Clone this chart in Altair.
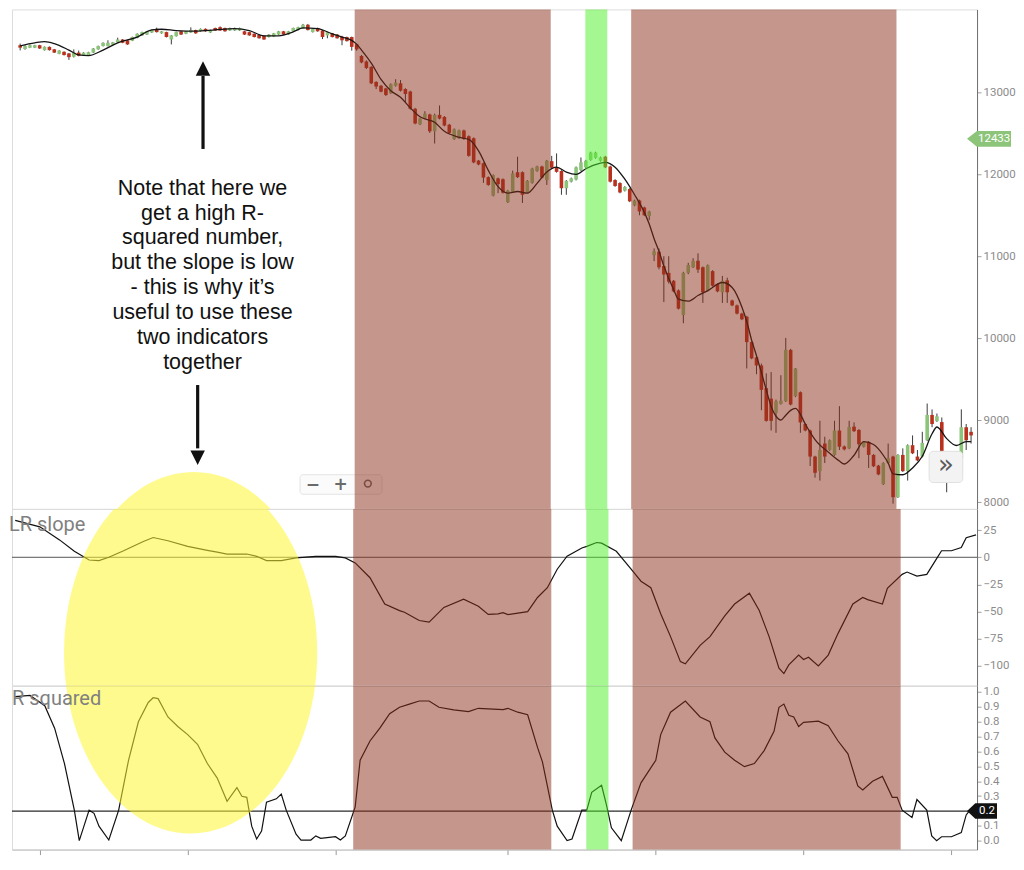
import altair as alt
import pandas as pd

# ---------------- data ----------------
bar_open = [
    13575, 13530, 13545, 13545, 13575, 13515, 13555, 13525, 13470, 13495,
    13475, 13435, 13485, 13450, 13450, 13485, 13525, 13565, 13565, 13580,
    13610, 13645, 13635, 13630, 13665, 13695, 13705, 13730, 13775, 13720,
    13735, 13645, 13685, 13745, 13715, 13730, 13760, 13745, 13775, 13730,
    13785, 13795, 13785, 13755, 13755, 13755, 13745, 13735, 13715, 13700,
    13690, 13675, 13680, 13705, 13745, 13705, 13745, 13760, 13780, 13825,
    13735, 13785, 13755, 13695, 13720, 13705, 13680, 13675, 13675, 13587,
    13444, 13377, 13310, 13127, 13080, 13048, 12990, 13080, 13110, 13040,
    13010, 12800, 12610, 12680, 12730, 12525, 12725, 12700, 12605, 12430,
    12440, 12535, 12465, 12440, 12167, 12135, 11965, 11740, 11950, 11940,
    11660, 11785, 12025, 12025, 11780, 11895, 12040, 12095, 11930, 12160,
    12085, 12040, 11830, 11910, 11935, 12050, 12085, 12175, 12200, 12165,
    12215, 12095, 11930, 11893, 11800, 11820, 11620, 11680, 11595, 11490,
    11012, 11055, 10880, 10797, 10700, 10583, 10282, 10797, 10865, 10945,
    10865, 10580, 10818, 10660, 10560, 10705, 10460, 10400, 10300, 10262,
    9952, 9765, 9667, 9390, 9262, 9090, 9198, 9230, 9857, 9290,
    9340, 8952, 8873, 8555, 8377, 8714, 8635, 8575, 8873, 8678,
    8655, 8920, 8880, 8675, 8734, 8575, 8444, 8218, 8476, 8555,
    8059, 8575, 8377, 8694, 8555, 8555, 8754, 9063, 8988, 8976,
    8270, 8440, 8560, 8536, 8913, 8857,
]
bar_high = [
    13595, 13575, 13585, 13580, 13580, 13560, 13560, 13530, 13515, 13500,
    13480, 13524, 13510, 13490, 13495, 13540, 13570, 13610, 13635, 13615,
    13667, 13650, 13640, 13680, 13720, 13740, 13750, 13765, 13790, 13750,
    13740, 13700, 13740, 13750, 13750, 13793, 13765, 13780, 13780, 13765,
    13790, 13805, 13790, 13790, 13790, 13790, 13750, 13740, 13720, 13705,
    13695, 13710, 13725, 13750, 13750, 13750, 13790, 13800, 13835, 13835,
    13780, 13790, 13760, 13740, 13725, 13710, 13690, 13680, 13680, 13595,
    13455, 13390, 13320, 13135, 13090, 13055, 13110, 13160, 13150, 13050,
    13020, 12810, 12690, 12770, 12740, 12740, 12840, 12710, 12615, 12560,
    12545, 12545, 12475, 12450, 12175, 12145, 11975, 12000, 11960, 11950,
    11810, 12045, 12215, 12035, 11930, 12080, 12105, 12105, 12175, 12225,
    12255, 12050, 11930, 11960, 12095, 12205, 12175, 12275, 12275, 12215,
    12225, 12105, 11940, 11903, 11855, 11830, 11690, 11690, 11605, 11555,
    11095, 11095, 11000, 11000, 10710, 10595, 10810, 10920, 10976, 11035,
    10875, 10900, 10830, 10670, 10760, 10738, 10470, 10410, 10310, 10272,
    9962, 9775, 9690, 9570, 9586, 9250, 9548, 10003, 9870, 9635,
    9350, 8962, 8883, 8565, 8992, 8797, 8764, 8992, 9170, 8690,
    8992, 8972, 8890, 8744, 8744, 8585, 8454, 8486, 8714, 8565,
    8585, 8655, 8704, 8813, 8635, 8857, 9202, 9130, 9080, 9032,
    8520, 8600, 8620, 9131, 8952, 8913,
]
bar_low = [
    13512, 13520, 13540, 13540, 13530, 13510, 13510, 13480, 13465, 13450,
    13396, 13425, 13440, 13445, 13445, 13480, 13520, 13560, 13560, 13575,
    13605, 13600, 13580, 13625, 13660, 13690, 13700, 13725, 13730, 13715,
    13670, 13585, 13680, 13700, 13710, 13725, 13715, 13740, 13740, 13725,
    13750, 13750, 13740, 13750, 13750, 13750, 13700, 13690, 13670, 13655,
    13640, 13670, 13675, 13700, 13700, 13700, 13740, 13755, 13775, 13755,
    13730, 13740, 13650, 13660, 13670, 13655, 13575, 13620, 13508, 13508,
    13355, 13285, 13100, 13040, 13000, 12955, 12980, 13070, 13010, 12880,
    12790, 12610, 12600, 12670, 12505, 12375, 12670, 12585, 12495, 12420,
    12430, 12420, 12215, 12135, 12110, 11895, 11860, 11730, 11770, 11765,
    11650, 11775, 11955, 11650, 11770, 11885, 12030, 11950, 11870, 12070,
    12020, 11750, 11750, 11900, 11925, 12040, 12075, 12165, 12190, 12155,
    12075, 11900, 11847, 11768, 11790, 11660, 11610, 11500, 11490, 11440,
    10940, 10840, 10440, 10666, 10560, 10350, 10182, 10780, 10855, 10797,
    10430, 10570, 10630, 10560, 10430, 10430, 10390, 10290, 10220, 9630,
    9743, 9560, 9120, 8981, 8873, 8845, 9190, 9220, 9180, 9280,
    8845, 8863, 8440, 8297, 8262, 8476, 8625, 8565, 8635, 8630,
    8645, 8855, 8535, 8665, 8416, 8427, 8327, 8208, 8466, 7980,
    8049, 8367, 8262, 8585, 8498, 8545, 8744, 8913, 8978, 8609,
    8119, 8420, 8540, 8516, 8635, 8714,
]
bar_close = [
    13545, 13565, 13575, 13575, 13535, 13555, 13515, 13485, 13510, 13455,
    13430, 13485, 13445, 13485, 13490, 13535, 13565, 13605, 13605, 13610,
    13645, 13605, 13585, 13675, 13715, 13735, 13745, 13760, 13735, 13745,
    13675, 13695, 13735, 13705, 13745, 13760, 13720, 13775, 13745, 13760,
    13755, 13755, 13745, 13785, 13785, 13785, 13705, 13695, 13675, 13660,
    13645, 13705, 13720, 13745, 13705, 13745, 13785, 13795, 13825, 13760,
    13775, 13745, 13675, 13735, 13675, 13660, 13635, 13625, 13555, 13524,
    13365, 13298, 13110, 13071, 13008, 12968, 13100, 13120, 13020, 12980,
    12800, 12620, 12680, 12740, 12525, 12725, 12680, 12595, 12505, 12550,
    12535, 12430, 12225, 12145, 12120, 11960, 11870, 11990, 11880, 11775,
    11800, 12010, 11965, 11750, 11920, 12070, 12095, 11960, 12165, 12080,
    12030, 11830, 11920, 11950, 12085, 12145, 12165, 12265, 12265, 12205,
    12085, 11910, 11857, 11778, 11845, 11670, 11680, 11547, 11500, 11545,
    11060, 10865, 10777, 10690, 10571, 10360, 10797, 10893, 10945, 10837,
    10560, 10890, 10640, 10571, 10700, 10560, 10400, 10300, 10230, 9952,
    9753, 9667, 9369, 8991, 8991, 9230, 9238, 9857, 9190, 9630,
    8972, 8873, 8555, 8357, 8635, 8555, 8754, 8873, 8675, 8643,
    8916, 8865, 8706, 8734, 8575, 8437, 8337, 8476, 8535, 8059,
    8575, 8377, 8694, 8595, 8508, 8722, 9063, 8952, 9047, 8619,
    8470, 8560, 8610, 8913, 8754, 8813,
]

ma_bar = [0, 3, 5, 7, 10, 12, 14, 17, 20, 24, 27, 29, 32, 36, 40, 44, 47, 50, 53, 56,
          58, 61, 64, 66, 68, 69, 70, 72, 74, 76, 78, 80, 82, 85, 87, 90, 92, 94, 96, 98,
          100, 102, 104, 106, 108, 110, 112, 114, 116, 119, 120, 122, 124, 126, 128, 129, 130, 131, 132, 134,
          135, 137, 139, 141, 144, 146, 148, 149, 150, 151, 152, 153, 154, 155, 156, 157, 158, 159, 160, 161,
          163, 166, 168, 169, 171, 173, 175, 177, 178, 179, 181, 183, 185, 187, 188, 190, 192, 194, 195]
ma_val = [13568, 13604, 13619, 13595, 13516, 13456, 13449, 13516, 13604, 13675, 13762, 13770, 13754, 13746, 13762, 13777, 13754, 13690, 13690, 13738,
          13786, 13777, 13714, 13675, 13634, 13587, 13516, 13357, 13158, 13020, 12940, 12810, 12702, 12634, 12524, 12452, 12425, 12286, 12048, 11849,
          11770, 11790, 11770, 11889, 12027, 12087, 12027, 12000, 12068, 12135, 12146, 12087, 11940, 11750, 11535, 11393, 11214, 11060, 10881, 10595,
          10476, 10452, 10520, 10580, 10679, 10619, 10381, 10203, 9976, 9786, 9583, 9369, 9167, 9047, 9000, 9059, 9119, 9143, 9071, 8952,
          8762, 8595, 8500, 8464, 8571, 8738, 8702, 8571, 8476, 8345, 8333, 8416, 8559, 8833, 8916, 8774, 8690, 8738, 8738]

lr_bar = [0, 5, 9, 12, 15, 17, 19, 22, 26, 28, 31, 35, 39, 41, 43, 47, 49, 51, 54, 57,
          61, 65, 67, 69, 72, 75, 78, 79, 82, 84, 87, 91, 94, 96, 98, 99, 100, 104, 106, 108,
          110, 112, 115, 116, 118, 119, 122, 125, 127, 129, 131, 133, 135, 136, 139, 141, 144, 146, 149, 151,
          153, 155, 156, 157, 159, 160, 161, 163, 165, 167, 170, 172, 173, 176, 177, 180, 181, 183, 185, 187,
          188, 190, 192, 193, 195]
lr_val = [34, 28, 16, 5.5, -2.5, -3, 0, 6, 14.5, 18.2, 15.2, 10, 6.4, 4.8, 3, 3, 0.9, -3, -3, -0.6,
          0.9, 0.9, -0.6, -5.2, -18.8, -43, -49.1, -50.6, -58.2, -59.7, -46.1, -38.5, -45, -52.5, -52, -51, -52.7, -50, -37, -28,
          -11, 1, 8.5, 10, 13.6, 13, 5.5, -11, -22, -28, -52, -73, -96, -98, -81, -73, -54, -43, -33, -49,
          -73, -102, -107, -99, -90, -94, -92, -100, -90, -70, -43, -37, -39, -43, -28.5, -15.7, -13.6, -17.3, -15.7, -1.2,
          6, 6, 9, 18, 20.6]

rsq_bar = [0, 3, 6, 8, 10, 12, 13, 15, 16, 17, 19, 21, 23, 25, 27, 28, 29, 31, 33, 35,
           37, 39, 41, 43, 45, 46, 47, 48, 49, 50, 51, 53, 54, 55, 57, 58, 60, 61, 62, 65,
           66, 67, 69, 70, 72, 74, 76, 78, 80, 82, 84, 86, 89, 92, 94, 96, 99, 100, 102, 104,
           106, 107, 109, 110, 112, 113, 115, 116, 117, 119, 120, 121, 123, 125, 127, 130, 131, 133, 136, 139,
           141, 142, 144, 146, 148, 150, 152, 154, 155, 156, 157, 158, 159, 160, 163, 165, 167, 169, 171, 172,
           174, 176, 178, 179, 180, 182, 183, 185, 186, 187, 188, 190, 192, 193, 194, 195]
rsq_val = [0.966, 0.974, 0.905, 0.755, 0.518, 0.206, 0.002, 0.206, 0.185, 0.099, 0.006, 0.206, 0.54, 0.798, 0.927, 0.959, 0.953, 0.83, 0.766, 0.712,
           0.647, 0.518, 0.421, 0.265, 0.357, 0.299, 0.292, 0.099, 0.013, 0.066, 0.26, 0.282, 0.314, 0.206, 0.045, 0.006, 0.006, 0.034, 0.017, 0.028,
           0.006, 0.034, 0.228, 0.54, 0.669, 0.755, 0.852, 0.895, 0.916, 0.937, 0.937, 0.895, 0.877, 0.866, 0.888, 0.884, 0.879, 0.888, 0.862, 0.845,
           0.626, 0.529, 0.206, 0.099, 0.002, 0.013, 0.206, 0.206, 0.325, 0.372, 0.239, 0.088, 0.002, 0.206, 0.389, 0.54, 0.712, 0.862, 0.937, 0.83,
           0.798, 0.69, 0.594, 0.54, 0.497, 0.518, 0.605, 0.734, 0.895, 0.916, 0.841, 0.83, 0.766, 0.794, 0.802, 0.772, 0.669, 0.583, 0.368, 0.342,
           0.4, 0.432, 0.292, 0.292, 0.206, 0.157, 0.277, 0.206, 0.034, 0.002, 0.028, 0.028, 0.056, 0.174, 0.217, 0.228]

band_start = [68.6, 115.9, 125.3]
band_end = [108.8, 120.4, 179.7]
band_kind = ["down", "up", "down"]

price_ticks = [8000, 9000, 10000, 11000, 12000, 13000]
lr_ticks = [-100, -75, -50, -25, 0, 25]
rsq_ticks = [0.0, 0.1, 0.3, 0.4, 0.5, 0.6, 0.7, 0.8, 0.9, 1.0]   # 0.2 is shown by the black tag
time_ticks = [5, 35, 65, 100, 130, 160, 190]

last_price = 12433
rsq_level = 0.2
lr_zero = 0

note_lines = ["Note that here we", "get a high R-", "squared number,", "but the slope is low",
              "- this is why it\u2019s", "useful to use these", "two indicators", "together"]

# annotation anchors (bar index, value)
note_anchor = {"bar": [37.4], "price": [11960]}
arrow_bar = [37.5, 36.4]
arrow_from = [12309, 9428]
arrow_to = [13200, 8655]
head_up = {"bar": [37.5], "price": [13290]}
head_down = {"bar": [36.4], "price": [8541]}
ellipse_at = {"bar": [35.6], "price": [6160], "lr": [-87.9], "rsq": [1.26]}
widget = {"x0": [57.4], "x1": [74.2], "y0": [8095], "y1": [8333]}
widget_icons = {"bar": [60.0, 65.7], "price": [8214, 8214], "icon": ["\u2212", "+"]}
widget_lens = {"bar": [71.3], "price": [8225]}
button = {"x0": [186.4], "x1": [193.3], "y0": [8238], "y1": [8619], "bar": [189.85], "price": [8428], "icon": ["\u00bb"]}

# ---------------- styling ----------------
W = 966
H_P, H_L, H_R = 500, 177, 164
UPC, DOWNC, WICK = "#8cc47a", "#b8321f", "#3a3a3a"
BROWN, LIME, YELLOW = "#8b2e1a", "#4cf023", "#fff530"
ELLIPSE = "M -0.70,0 A 0.70,1 0 1,1 0.70,0 A 0.70,1 0 1,1 -0.70,0 Z"
ELL_SIZE = 362 * 362
UP_HEAD = "M 0,-1 L 1,1 L -1,1 Z"
DOWN_HEAD = "M 0,1 L 1,-1 L -1,-1 Z"
TAG = "M -1,0 L -0.55,-0.36 L 1,-0.36 L 1,0.36 L -0.55,0.36 Z"
TAG_SMALL = "M -1,0 L -0.45,-0.52 L 1,-0.52 L 1,0.52 L -0.45,0.52 Z"

xs = alt.Scale(domain=[-0.65, 195.2], nice=False, zero=False)
ys_p = alt.Scale(domain=[7916, 14012], nice=False, zero=False)
ys_l = alt.Scale(domain=[-118.2, 44.5], nice=False, zero=False)
ys_r = alt.Scale(domain=[-0.058, 1.039], nice=False, zero=False)

XA_TOP = alt.Axis(title=None, labels=False, ticks=False, grid=False, domainColor="#d2d2d2", minExtent=0)
XA_BOT = alt.Axis(title=None, labels=False, ticks=True, tickSize=5, tickColor="#9a9a9a", values=time_ticks,
                  grid=False, domainColor="#bdbdbd", minExtent=0)


def yaxis(values, fmt):
    return alt.Axis(orient="right", title=None, values=values, format=fmt, labelColor="#8c8c8c",
                    labelFont="Roboto", labelFontSize=11.5, tickColor="#a0a0a0", tickSize=4,
                    labelPadding=2, domainColor="#6e6e6e", grid=False, minExtent=0)


YA_P = yaxis(price_ticks, "d")
YA_L = yaxis(lr_ticks, "d")
YA_R = yaxis(rsq_ticks, ".1f")

candles = pd.DataFrame({"bar": list(range(len(bar_open))), "open": bar_open, "high": bar_high,
                        "low": bar_low, "close": bar_close})
candles["dir"] = ["up" if c >= o else "down" for o, c in zip(bar_open, bar_close)]
ma_df = pd.DataFrame({"bar": ma_bar, "price": ma_val})
lr_df = pd.DataFrame({"bar": lr_bar, "lr": lr_val})
rsq_df = pd.DataFrame({"bar": rsq_bar, "rsq": rsq_val})
bands_df = pd.DataFrame({"start": band_start, "end": band_end, "kind": band_kind})
ell_df = pd.DataFrame(ellipse_at)


def X(field, axis):
    return alt.X(f"{field}:Q", scale=xs, axis=axis)


def bands_layer(H, xa):
    return alt.Chart(bands_df).mark_rect(opacity=0.5).encode(
        x=X("start", xa), x2="end:Q", y=alt.value(0), y2=alt.value(H),
        color=alt.Color("kind:N", scale=alt.Scale(domain=["down", "up"], range=[BROWN, LIME]), legend=None))


def ellipse_layer(field, ys, ya, xa):
    return alt.Chart(ell_df).mark_point(shape=ELLIPSE, size=ELL_SIZE, filled=True, color=YELLOW,
                                        opacity=0.55, strokeWidth=0, clip=True).encode(
        x=X("bar", xa), y=alt.Y(f"{field}:Q", scale=ys, axis=ya))


# ---------------- price panel ----------------
def YP(field):
    return alt.Y(f"{field}:Q", scale=ys_p, axis=YA_P)


wicks = alt.Chart(candles).mark_rule(color=WICK, strokeWidth=1).encode(
    x=X("bar", XA_TOP), y=YP("low"), y2="high:Q")
bodies = alt.Chart(candles).mark_bar(size=3.6).encode(
    x=X("bar", XA_TOP), y=YP("open"), y2="close:Q",
    color=alt.Color("dir:N", scale=alt.Scale(domain=["up", "down"], range=[UPC, DOWNC]), legend=None))
ma_line = alt.Chart(ma_df).mark_line(color="#141414", strokeWidth=1.3, interpolate="monotone").encode(
    x=X("bar", XA_TOP), y=YP("price"))
w_box = alt.Chart(pd.DataFrame(widget)).mark_rect(fill="#fbfbfb", stroke="#e3e3e3", strokeWidth=1,
                                                 cornerRadius=3).encode(
    x=X("x0", XA_TOP), x2="x1:Q", y=YP("y0"), y2="y1:Q")
w_txt = alt.Chart(pd.DataFrame(widget_icons)).mark_text(fontSize=17, fontWeight="bold", color="#6a6a6a",
                                                       font="DejaVu Sans").encode(
    x=X("bar", XA_TOP), y=YP("price"), text="icon:N")
w_lens = alt.Chart(pd.DataFrame(widget_lens)).mark_point(shape="circle", size=45, filled=False,
                                                        color="#6a6a6a", strokeWidth=1.6, opacity=1).encode(
    x=X("bar", XA_TOP), y=YP("price"))
shafts = alt.Chart(pd.DataFrame({"bar": arrow_bar, "from": arrow_from, "to": arrow_to})).mark_rule(
    color="#111111", strokeWidth=3.2).encode(x=X("bar", XA_TOP), y=YP("from"), y2="to:Q")
h_up = alt.Chart(pd.DataFrame(head_up)).mark_point(shape=UP_HEAD, size=210, filled=True, color="#111111",
                                                  opacity=1, strokeWidth=0).encode(
    x=X("bar", XA_TOP), y=YP("price"))
h_down = alt.Chart(pd.DataFrame(head_down)).mark_point(shape=DOWN_HEAD, size=210, filled=True, color="#111111",
                                                      opacity=1, strokeWidth=0).encode(
    x=X("bar", XA_TOP), y=YP("price"))
note = alt.Chart(pd.DataFrame(note_anchor)).mark_text(
    text=note_lines, lineHeight=25, align="center", baseline="top", font="Liberation Sans",
    fontSize=21.5, color="#111111").encode(x=X("bar", XA_TOP), y=YP("price"))
b_df = pd.DataFrame(button)
b_box = alt.Chart(b_df).mark_rect(fill="#f3f3f3", stroke="#e0e0e0", strokeWidth=1, cornerRadius=4).encode(
    x=X("x0", XA_TOP), x2="x1:Q", y=YP("y0"), y2="y1:Q")
b_txt = alt.Chart(b_df).mark_text(fontSize=26, color="#5a5a5a", font="DejaVu Sans", baseline="middle",
                                  dy=-2).encode(x=X("bar", XA_TOP), y=YP("price"), text="icon:N")
tag_df = pd.DataFrame({"price": [last_price], "label": [str(last_price)]})
tag_shape = alt.Chart(tag_df).mark_point(shape=TAG, size=44 * 44, filled=True, color=UPC, opacity=1,
                                         strokeWidth=0).encode(x=alt.value(W + 12), y=YP("price"))
tag_txt = alt.Chart(tag_df).mark_text(color="white", fontSize=11.5, font="Roboto", align="left",
                                      baseline="middle").encode(x=alt.value(W + 1), y=YP("price"), text="label:N")

price_panel = alt.layer(
    wicks, bodies, ma_line, w_box, w_txt, w_lens, bands_layer(H_P, XA_TOP),
    ellipse_layer("price", ys_p, YA_P, XA_TOP), shafts, h_up, h_down, note, b_box, b_txt, tag_shape, tag_txt
).resolve_scale(color="independent").properties(width=W, height=H_P)


# ---------------- LR slope panel ----------------
def YL(field):
    return alt.Y(f"{field}:Q", scale=ys_l, axis=YA_L)


lr_zero_rule = alt.Chart(pd.DataFrame({"lr": [lr_zero]})).mark_rule(color="#555555", strokeWidth=1).encode(y=YL("lr"))
lr_line = alt.Chart(lr_df).mark_line(color="#111111", strokeWidth=1.2).encode(x=X("bar", XA_TOP), y=YL("lr"))
lr_label = alt.Chart(pd.DataFrame({"lr": [30], "label": ["LR slope"]})).mark_text(
    align="left", baseline="middle", fontSize=20, font="Roboto", color="#808080").encode(
    x=alt.value(-3), y=YL("lr"), text="label:N")

lr_panel = alt.layer(
    lr_zero_rule, lr_line, bands_layer(H_L, XA_TOP), ellipse_layer("lr", ys_l, YA_L, XA_TOP), lr_label
).properties(width=W, height=H_L)


# ---------------- R squared panel ----------------
def YR(field):
    return alt.Y(f"{field}:Q", scale=ys_r, axis=YA_R)


rsq_rule = alt.Chart(pd.DataFrame({"rsq": [rsq_level]})).mark_rule(color="#2a2a2a", strokeWidth=1.3).encode(y=YR("rsq"))
rsq_line = alt.Chart(rsq_df).mark_line(color="#111111", strokeWidth=1.2).encode(x=X("bar", XA_BOT), y=YR("rsq"))
rsq_label = alt.Chart(pd.DataFrame({"rsq": [0.948], "label": ["R squared"]})).mark_text(
    align="left", baseline="middle", fontSize=20, font="Roboto", color="#808080").encode(
    x=alt.value(0), y=YR("rsq"), text="label:N")
rtag_df = pd.DataFrame({"rsq": [rsq_level], "label": ["0.2"]})
rtag_shape = alt.Chart(rtag_df).mark_point(shape=TAG_SMALL, size=30 * 30, filled=True, color="#111111",
                                           opacity=1, strokeWidth=0).encode(x=alt.value(W + 5), y=YR("rsq"))
rtag_txt = alt.Chart(rtag_df).mark_text(color="white", fontSize=11.5, font="Roboto", align="left",
                                        baseline="middle").encode(x=alt.value(W + 2), y=YR("rsq"), text="label:N")

rsq_panel = alt.layer(
    rsq_rule, rsq_line, bands_layer(H_R, XA_BOT), ellipse_layer("rsq", ys_r, YA_R, XA_BOT), rsq_label,
    rtag_shape, rtag_txt
).properties(width=W, height=H_R)

chart = alt.vconcat(price_panel, lr_panel, rsq_panel, spacing=0, bounds="flush").properties(
    padding=0
).configure_view(stroke=None).configure(font="Roboto")

chart.save("out.html", embed_options={"renderer": "svg", "actions": False})
